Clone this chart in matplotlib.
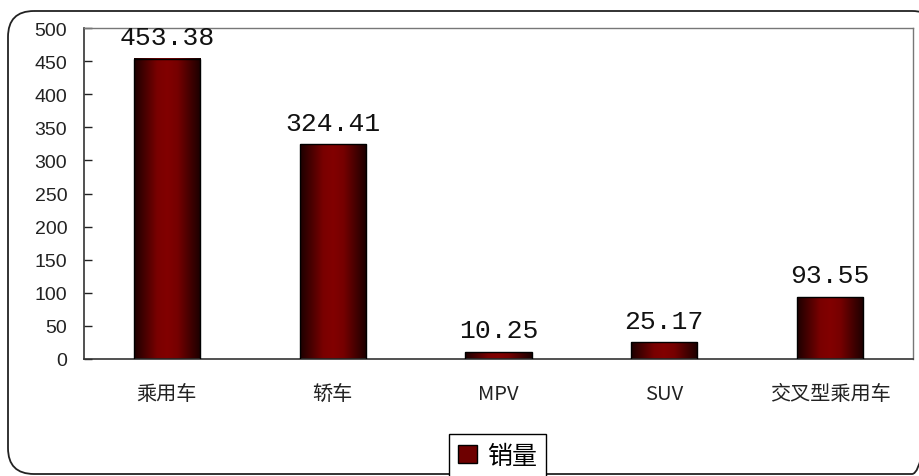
import numpy as np
import matplotlib.pyplot as plt
from matplotlib.colors import LinearSegmentedColormap
from matplotlib.patches import FancyBboxPatch, Patch

categories = ['乘用车', '轿车', 'MPV', 'SUV', '交叉型乘用车']
sales = [453.38, 324.41, 10.25, 25.17, 93.55]
value_labels = ['453.38', '324.41', '10.25', '25.17', '93.55']
legend_label = '销量'

cjk = ['Noto Sans CJK SC', 'DejaVu Sans']
plt.rcParams['font.family'] = cjk

fig = plt.figure(figsize=(9.2, 4.77), dpi=100)

# rounded outer frame, drawn in pixel units
bg = fig.add_axes([0, 0, 1, 1], zorder=0)
bg.set_xlim(0, 920)
bg.set_ylim(477, 0)
bg.axis('off')
bg.add_patch(FancyBboxPatch((8, 12), 930, 463,
                            boxstyle='round,pad=0,rounding_size=26',
                            fill=False, edgecolor='#222222', linewidth=1.3))

ax = fig.add_axes([84 / 920, 1 - 360 / 477, 829 / 920, 331 / 477], zorder=1)
ax.patch.set_alpha(0)

x = np.arange(len(categories))
bars = ax.bar(x, sales, width=0.4, color='none', edgecolor='black',
              linewidth=1.0, zorder=3)

# horizontal shading inside each bar
cmap = LinearSegmentedColormap.from_list(
    'bar', [(0, '#1c0000'), (0.35, '#7a0000'), (0.5, '#820000'),
            (0.65, '#760000'), (1, '#1a0000')])
grad = np.linspace(0, 1, 256).reshape(1, -1)
for b in bars:
    ax.imshow(grad, extent=(b.get_x(), b.get_x() + b.get_width(), 0, b.get_height()),
              cmap=cmap, aspect='auto', zorder=2, interpolation='bilinear')

for xi, v, lab in zip(x, sales, value_labels):
    ax.annotate(lab, (xi, v), xytext=(0, 7), textcoords='offset points',
                ha='center', va='bottom', fontsize=19,
                family=['Liberation Mono', 'DejaVu Sans Mono'], color='#111111')

ax.set_xlim(-0.5, len(categories) - 0.5)
ax.set_ylim(0, 500)
ax.set_yticks(np.arange(0, 501, 50))
ax.set_xticks(x)
ax.set_xticklabels(categories, fontsize=14.5)
for t in ax.get_yticklabels():
    t.set_family(['Liberation Sans', 'DejaVu Sans'])
    t.set_fontsize(14)

ax.tick_params(axis='y', direction='in', length=6, width=1, pad=12, colors='#222222')
ax.tick_params(axis='x', length=0, pad=17, colors='#222222')
for side in ['left', 'bottom']:
    ax.spines[side].set_color('#333333')
    ax.spines[side].set_linewidth(1.2)
for side in ['top', 'right']:
    ax.spines[side].set_color('#777777')
    ax.spines[side].set_linewidth(1.0)

handle = Patch(facecolor='#6e0000', edgecolor='black', linewidth=1.0)
leg = fig.legend([handle], [legend_label], loc='upper center',
                 bbox_to_anchor=(497.5 / 920, 1 - 435 / 477), fontsize=18,
                 fancybox=False, edgecolor='black', framealpha=1,
                 handlelength=0.75, handleheight=0.75, handletextpad=0.4,
                 borderpad=0.35, borderaxespad=0)
leg.get_frame().set_linewidth(1.0)

fig.savefig('out.png', dpi=100)
